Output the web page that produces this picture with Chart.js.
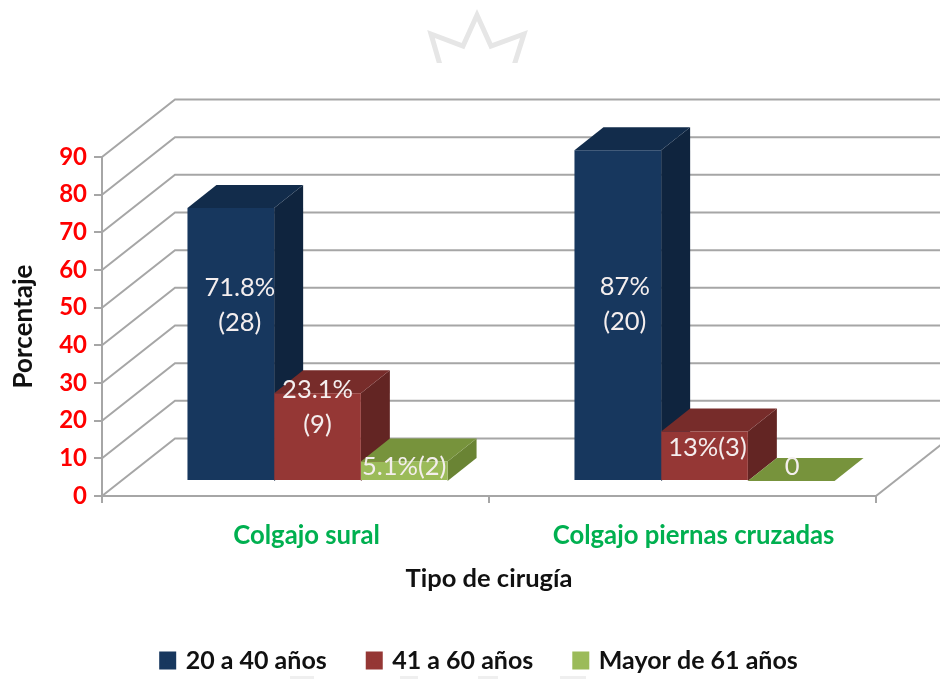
<!DOCTYPE html>
<html><head><meta charset="utf-8">
<style>html,body{margin:0;padding:0;background:#fff}#w{width:940px;height:679px;overflow:hidden}canvas{filter:blur(.45px)}</style>
<script src="https://cdn.jsdelivr.net/npm/chart.js@4"></script></head>
<body><div id="w"><canvas id="c" width="940" height="679"></canvas></div>
<script>
const categories = ["Colgajo sural", "Colgajo piernas cruzadas"];
const seriesNames = ["20 a 40 años", "41 a 60 años", "Mayor de 61 años"];
const young = [71.8, 87];
const middle = [23.1, 13];
const older = [5.1, 0];
const youngLabels = [["71.8%", "(28)"], ["87%", "(20)"]];
const middleLabels = [["23.1%", "(9)"], ["13%(3)"]];
const olderLabels = [["5.1%(2)"], ["0"]];

const FONT = "Lato, Carlito, 'Open Sans', sans-serif";
const FRONT = ["#17375E", "#953735", "#9BBB59"];
const TOP = ["#122C4B", "#772C2A", "#77933C"];
const SIDE = ["#0F243E", "#632523", "#6A8434"];
const GRID = "#A6A6A6";
const WALL = {dx: 73, dy: 57.5};      // depth of the floor / side wall
const BAR = {dx: 22, dy: 15, depthX: 29, depthY: 23, stretch: 1.009}; // seat of the bars on the floor
const labelSets = [youngLabels, middleLabels, olderLabels];
const labelNudge = [[[9,-39],[7,-11]],[[0,-30],[3,-9]],[[0,-5],[1,-14]]]; // from bar centre

const scene = {
  id: "scene",
  afterLayout(chart){
    const l = chart.legend; l.left += 42; l.right += 42; l.top += 12; l.bottom += 12;
  },
  beforeDatasetsDraw(chart){
    const {ctx, chartArea:a, scales:{y}} = chart;
    ctx.save();
    ctx.strokeStyle = GRID; ctx.lineWidth = 2;
    y.ticks.forEach(t=>{
      const p = y.getPixelForValue(t.value);
      ctx.beginPath();
      ctx.moveTo(a.left, p);
      ctx.lineTo(a.left+WALL.dx, p-WALL.dy);
      ctx.lineTo(chart.width+2, p-WALL.dy);
      ctx.stroke();
    });
    const base = y.getPixelForValue(0);
    ctx.beginPath();
    ctx.moveTo(a.right, base);
    ctx.lineTo(a.right+WALL.dx, base-WALL.dy);
    ctx.stroke();
    // faint watermark remains behind the chart
    ctx.fillStyle="#EFEFEF";
    [[290,24],[400,18],[478,20],[560,26]].forEach(r=>ctx.fillRect(r[0],676,r[1],3));
    ctx.save();
    ctx.beginPath(); ctx.rect(400,0,160,63); ctx.clip();
    ctx.strokeStyle="#E6E6E6"; ctx.lineWidth=5; ctx.lineJoin="miter";
    ctx.beginPath();
    ctx.moveTo(442,72); ctx.lineTo(431,34); ctx.lineTo(463,46); ctx.lineTo(477,15);
    ctx.lineTo(491,46); ctx.lineTo(524,34); ctx.lineTo(512,72);
    ctx.stroke();
    ctx.restore();
    // depth faces of the bars, back to front
    const fy = v => base-BAR.dy-(base-v)*BAR.stretch;
    [0,1,2].forEach(i=>{
      chart.getDatasetMeta(i).data.forEach(el=>{
        const x0 = el.x-el.width/2+BAR.dx, x1 = el.x+el.width/2+BAR.dx;
        const t = fy(el.y), bt = base-BAR.dy;
        ctx.fillStyle = SIDE[i];
        ctx.beginPath(); ctx.moveTo(x1,t); ctx.lineTo(x1+BAR.depthX,t-BAR.depthY);
        ctx.lineTo(x1+BAR.depthX,bt-BAR.depthY); ctx.lineTo(x1,bt); ctx.closePath(); ctx.fill();
        ctx.fillStyle = TOP[i];
        ctx.beginPath(); ctx.moveTo(x0,t); ctx.lineTo(x0+BAR.depthX,t-BAR.depthY);
        ctx.lineTo(x1+BAR.depthX,t-BAR.depthY); ctx.lineTo(x1,t); ctx.closePath(); ctx.fill();
      });
    });
    ctx.restore();
  },
  beforeDatasetDraw(chart){
    const {ctx, scales:{y}} = chart;
    const base = y.getPixelForValue(0);
    ctx.save();
    ctx.translate(BAR.dx, base-BAR.dy);
    ctx.scale(1, BAR.stretch);
    ctx.translate(0, -base);
  },
  afterDatasetDraw(chart){ chart.ctx.restore(); },
  afterDatasetsDraw(chart){
    const {ctx, scales:{y}} = chart;
    const base = y.getPixelForValue(0);
    ctx.save();
    ctx.fillStyle = "#F4EEEE"; ctx.textAlign="center"; ctx.textBaseline="middle";
    ctx.font = "25.5px "+FONT;
    chart.data.datasets.forEach((d,i)=>{
      chart.getDatasetMeta(i).data.forEach((el,j)=>{
        const lines = labelSets[i][j];
        const n = labelNudge[i][j];
        const cx = el.x+BAR.dx+n[0];
        const cy = base-BAR.dy-(base-el.y)*BAR.stretch/2+n[1];
        lines.forEach((s,k)=>ctx.fillText(s,cx,cy+(k-(lines.length-1)/2)*35));
      });
    });
    ctx.restore();
  }
};

new Chart(document.getElementById("c"),{
  type:"bar",
  data:{labels:categories,datasets:[
    {label:seriesNames[0],data:young,backgroundColor:FRONT[0]},
    {label:seriesNames[1],data:middle,backgroundColor:FRONT[1]},
    {label:seriesNames[2],data:older,backgroundColor:FRONT[2]}
  ]},
  plugins:[scene],
  options:{
    responsive:false,animation:false,
    layout:{padding:{top:157,right:64,left:0,bottom:8}},
    datasets:{bar:{categoryPercentage:0.672,barPercentage:1,borderWidth:0,clip:false}},
    plugins:{
      title:{display:false},tooltip:{enabled:false},
      legend:{display:true,position:"bottom",
        labels:{boxWidth:11,boxHeight:12,padding:42,color:"#111",font:{family:FONT,size:25,weight:"bold"},
          generateLabels(chart){
            return Chart.defaults.plugins.legend.labels.generateLabels(chart).map(it=>Object.assign(it,{lineWidth:6,strokeStyle:it.fillStyle}));
          }}}
    },
    scales:{
      x:{
        grid:{drawOnChartArea:false,color:GRID,tickLength:7,lineWidth:2},
        border:{color:GRID,width:2},
        ticks:{color:"#00B050",padding:17,labelOffset:11,maxRotation:0,font:{family:FONT,size:25.7,weight:"bold"}},
        title:{display:true,text:"Tipo de cirugía",color:"#111",padding:{top:0,bottom:0},font:{family:FONT,size:25.5,weight:"bold"}},
        afterFit(s){s.height=98;}
      },
      y:{
        min:0,max:90,
        grid:{drawOnChartArea:false,color:GRID,tickLength:8,lineWidth:2},
        border:{color:GRID,width:2},
        ticks:{stepSize:10,color:"#FF0000",padding:7,font:{family:FONT,size:24,weight:"bold"}},
        title:{display:true,text:"Porcentaje",color:"#111",padding:{top:8,bottom:0},font:{family:FONT,size:26,weight:"bold"}},
        afterFit(s){s.width=102;}
      }
    }
  }
});
</script></body></html>
